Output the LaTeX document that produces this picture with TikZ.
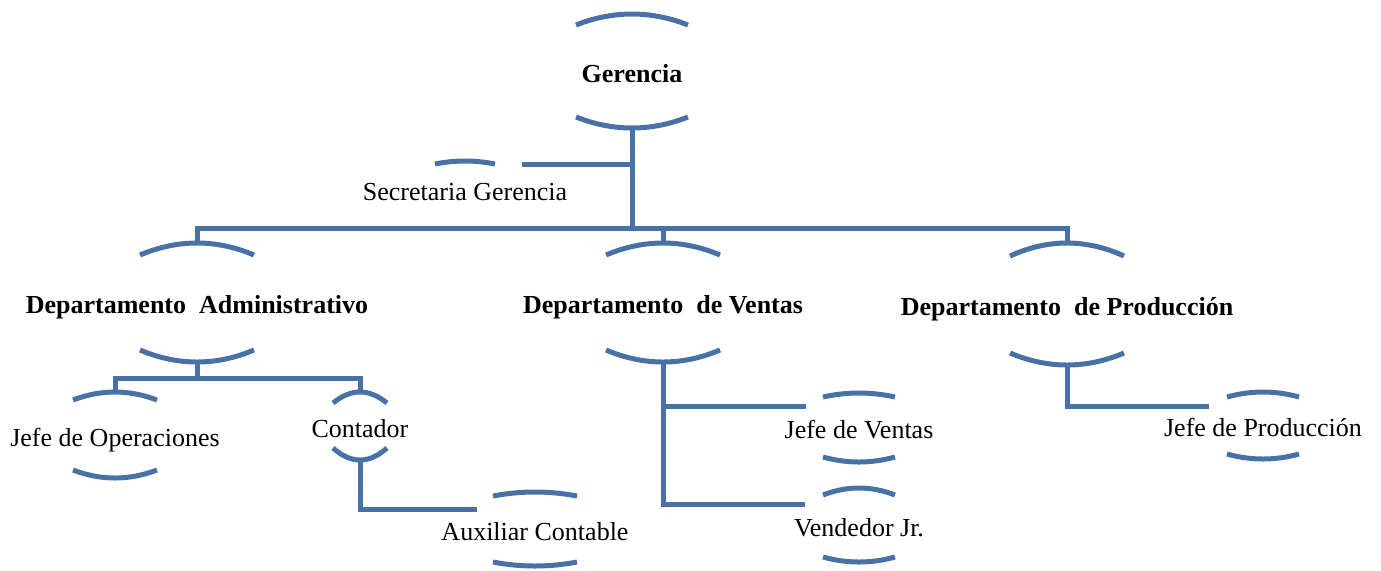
\documentclass[tikz,border=0pt]{standalone}
\usepackage{fontspec}
\setmainfont{Liberation Serif}
\usetikzlibrary{calc}
\definecolor{orgblue}{RGB}{72,113,166}
\tikzset{
  toparc/.style 2 args={append after command={
    ($(\tikzlastnode.north)+(-#1,#2)$) .. controls ($(\tikzlastnode.north)+(-#1/3,-#2/3)$) and ($(\tikzlastnode.north)+(#1/3,-#2/3)$) .. ($(\tikzlastnode.north)+(#1,#2)$)}},
  botarc/.style 2 args={append after command={
    ($(\tikzlastnode.south)+(-#1,-#2)$) .. controls ($(\tikzlastnode.south)+(-#1/3,#2/3)$) and ($(\tikzlastnode.south)+(#1/3,#2/3)$) .. ($(\tikzlastnode.south)+(#1,-#2)$)}},
  plainbox/.style={inner sep=0pt, outer sep=0pt, minimum height=#1*0.5pt, text height=11pt, text depth=0pt,
    font=\fontsize{13}{15}\selectfont},
  boldbox/.style={plainbox=#1, font=\fontsize{13}{15}\selectfont\bfseries},
  link/.style={draw=orgblue, line width=2.5pt}
}
\begin{document}
\begin{tikzpicture}[x=0.5pt,y=-0.5pt]
\useasboundingbox (0,0) rectangle (1381,570);
%=======gerencia=============
\draw[link] (632,71) node[boldbox=114, toparc={56}{11}, botarc={56}{11}] (ger) {Gerencia};
\draw[link] (465,189) node[plainbox=56, toparc={30}{3}] (sec) {Secretaria Gerencia};
%=======departamentos=============
\draw[link] (197,302.5) node[boldbox=119, toparc={57}{12}, botarc={57}{12}] (adm) {Departamento\ \ Administrativo};
\draw[link] (663,302.5) node[boldbox=119, toparc={57}{12}, botarc={57}{12}] (ven) {Departamento\ \ de Ventas};
\draw[link] (1067,304) node[boldbox=122, toparc={57}{13}, botarc={57}{12}] (pro) {Departamento\ \ de Producci\'on};
%=======puestos=============
\draw[link] (115,435) node[plainbox=86, toparc={42}{8}, botarc={42}{8}] (ope) {Jefe de Operaciones};
\draw[link] (360,426) node[plainbox=68, toparc={27}{11}, botarc={27}{12}] (con) {Contador};
\draw[link] (535,529) node[plainbox=74, toparc={42}{4}, botarc={42}{4}] (aux) {Auxiliar Contable};
\draw[link] (859,427.5) node[plainbox=69, toparc={36}{4}, botarc={36}{5}] (jv) {Jefe de Ventas};
\draw[link] (859,525) node[plainbox=74, toparc={36}{7}, botarc={36}{5}] (vjr) {Vendedor Jr.};
\draw[link] (1263,425.5) node[plainbox=67, toparc={36}{5}, botarc={36}{5}] (jp) {Jefe de Producci\'on};
%=======conectores=============
\coordinate (bus) at ($(adm.north)+(0,-15)$);
\coordinate (secin) at ($(sec.north)+(57,3)$);
\coordinate (admbus) at ($(adm.south)+(0,16)$);
\coordinate (auxin) at ($(aux.center)+(-58,-20)$);
\coordinate (jvin) at ($(jv.center)+(-53,-21.5)$);
\coordinate (vjrin) at ($(vjr.center)+(-54,-21)$);
\coordinate (jpin) at ($(jp.center)+(-54,-19.5)$);
\draw[link] (ger.south) -- (ger.south |- bus);
\draw[link] (secin) -- (ger.south |- secin);
\draw[link] (adm.north) |- (bus) -| (pro.north);
\draw[link] (ven.north) -- (ven.north |- bus);
\draw[link] (adm.south) -- (admbus);
\draw[link] (ope.north) |- (admbus) -| (con.north);
\draw[link] (con.south) |- (auxin);
\draw[link] (ven.south) |- (vjrin);
\draw[link] (ven.south |- jvin) -- (jvin);
\draw[link] (pro.south) |- (jpin);
\end{tikzpicture}
\end{document}
